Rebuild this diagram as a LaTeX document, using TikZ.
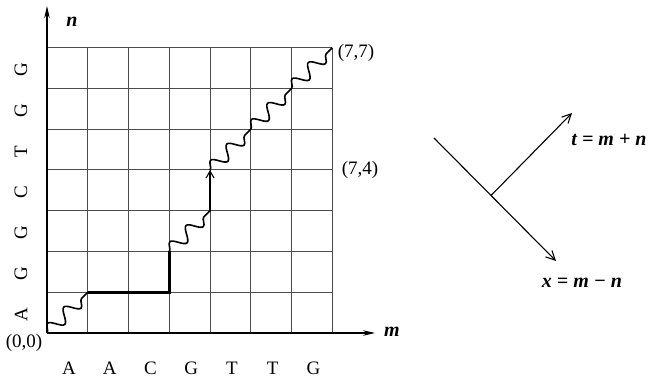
\documentclass[tikz,border=0pt]{standalone}
\usepackage{fontspec}
\setmainfont{Liberation Serif}
\usetikzlibrary{arrows.meta,decorations.pathmorphing}
\tikzset{
  gridline/.style={draw=black!70, line width=1pt},
  axisline/.style={draw=black, line width=1.1pt, -{Stealth[length=12pt,width=5.5pt]}},
  thickpath/.style={draw=black, line width=2.8pt},
  wavy/.style={draw=black, line width=1.6pt, decorate, decoration={snake, segment length=23pt, amplitude=6.5pt}},
  barbarrow/.style={draw=black, line width=1.1pt, -{Straight Barb[length=9pt,width=9pt]}},
  lbl/.style={inner sep=0pt, font=\fontsize{19}{21}\selectfont},
  blbl/.style={inner sep=0pt, font=\fontsize{20}{22}\selectfont\bfseries\itshape}
}
\begin{document}
\begin{tikzpicture}[x=1pt,y=-1pt]
\useasboundingbox (0,0) rectangle (649,381);
\foreach \i in {0,...,7}{\foreach \j in {0,...,7}{
  \coordinate (p\i\j) at ({47+40.76*\i},{333-40.76*\j});}}
% grid
\foreach \k in {1,...,7}{
  \draw[gridline] (p\k0) -- (p\k7);
  \draw[gridline] (p0\k) -- (p7\k);}
% axes
\coordinate (ntip) at (47,6);
\coordinate (mtip) at (375,333);
\draw[axisline] (p00) -- (ntip);
\draw[axisline] (p00) -- (mtip);
\node[blbl] (nlab) at (72,22) {n};
\node[blbl] (mlab) at (392,332) {m};
\node[lbl] (origin) at (24,343) {(0,0)};
\node[lbl] (l77) at (356,53) {(7,7)};
\node[lbl] (l74) at (360,170) {(7,4)};
% sequence letters
\foreach \L [count=\c from 0] in {A,A,C,G,T,T,G}{
  \node[lbl] (b\c) at ({47+40.76*(\c+0.5)+1.5},368) {\L};}
\foreach \L [count=\c from 0] in {A,G,G,C,T,G,G}{
  \node[lbl, rotate=90] (s\c) at (21,{333-40.76*(\c+0.5)+2}) {\L};}
% alignment path
\draw[wavy] (p00) -- (p11);
\draw[thickpath] (p11) -- (p31) -- (p32);
\draw[wavy] (p32) -- (p43);
\draw[thickpath, -{Straight Barb[length=7pt,width=8pt,line width=1.1pt]}] (p43) -- (p44);
\draw[wavy] (p44) -- (p55);
\draw[wavy] (p55) -- (p66);
\draw[wavy] (p66) -- (p77);
% rotated axes
\coordinate (xs) at (434,138);
\coordinate (xe) at (556,261);
\coordinate (ts) at (491,195.5);
\coordinate (te) at (572,113);
\draw[barbarrow] (xs) -- (xe);
\draw[barbarrow] (ts) -- (te);
\node[blbl] (tlab) at (609,140) {t = m + n};
\node[blbl] (xlab) at (582,283) {x = m − n};
\end{tikzpicture}
\end{document}
